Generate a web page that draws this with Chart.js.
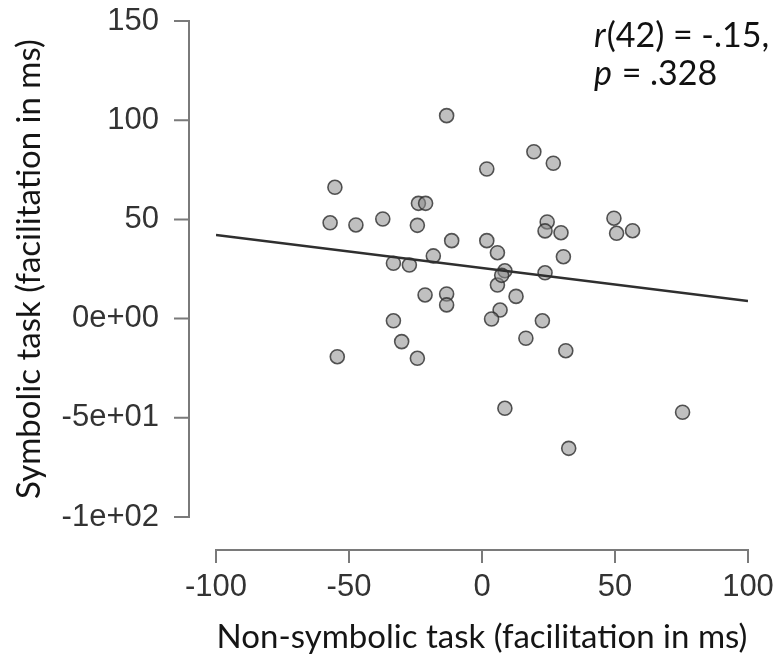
<!DOCTYPE html>
<html>
<head>
<meta charset="utf-8">
<script src="https://cdn.jsdelivr.net/npm/chart.js@4/dist/chart.umd.min.js"></script>
<style>
  html, body { margin: 0; padding: 0; background: #ffffff; }
  #wrap { width: 779px; height: 661px; position: relative; }
</style>
</head>
<body>
<div id="wrap"><canvas id="c" width="779" height="661"></canvas></div>
<script>
// ---- data ----
const nonSymbolic = [
  -13.3, 1.8, -55.3, -23.9, -21.2, -57.1, -47.4, -37.3, -24.3, -11.4,
  1.8, 5.8, -18.3, -33.3, -27.3, 8.6, 19.5, 26.8, 24.5, 23.7,
  29.7, 49.6, 50.6, 56.6, 30.6, 23.7, 5.8, 12.8, -21.4, -13.3,
  -13.3, 6.8, 3.6, -33.3, 22.7, 16.5, -30.2, 31.5, -54.4, -24.3,
  8.6, 75.4, 32.6, 7.4
];
const symbolic = [
  102.3, 75.4, 66.2, 58.1, 58.1, 48.3, 47.2, 50.2, 47.0, 39.3,
  39.3, 33.2, 31.6, 27.9, 27.0, 24.1, 84.1, 78.3, 48.7, 44.2,
  43.3, 50.6, 43.0, 44.3, 31.2, 23.1, 16.9, 11.2, 11.9, 12.4,
  6.9, 4.3, -0.2, -1.1, -1.1, -9.9, -11.6, -16.2, -19.2, -20.0,
  -45.2, -47.2, -65.4, 21.8
];
const fitX = [-100, 100];
const fitY = [42.1, 8.9];
const xTicks = [-100, -50, 0, 50, 100];
const xTickLabels = ['-100', '-50', '0', '50', '100'];
const yTicks = [-100, -50, 0, 50, 100, 150];
const yTickLabels = ['-1e+02', '-5e+01', '0e+00', '50', '100', '150'];
const xTitle = 'Non-symbolic task (facilitation in ms)';
const yTitle = 'Symbolic task (facilitation in ms)';
const statLine1 = ['r', '(42) = -.15,'];
const statLine2 = ['p', ' = .328'];

const points = nonSymbolic.map((x, i) => ({ x: x, y: symbolic[i] }));
const fitPoints = fitX.map((x, i) => ({ x: x, y: fitY[i] }));

const AXIS_COLOR = '#7a7a7a';
const TITLE_FONT = 'Lato, "Open Sans", sans-serif';
const TICK_FONT = '"Liberation Sans", Arial, sans-serif';

// Offset (R-style) axes drawn from the chart's own scales
const offsetAxes = {
  id: 'offsetAxes',
  afterDraw(chart) {
    const ctx = chart.ctx;
    const xs = chart.scales.x, ys = chart.scales.y;
    const area = chart.chartArea;
    ctx.save();
    ctx.strokeStyle = AXIS_COLOR;
    ctx.lineWidth = 2;
    ctx.lineCap = 'butt';
    // y axis
    const ax = area.left - 27;
    const yTop = ys.getPixelForValue(yTicks[yTicks.length - 1]);
    const yBot = ys.getPixelForValue(yTicks[0]);
    ctx.beginPath();
    ctx.moveTo(ax, yTop - 1); ctx.lineTo(ax, yBot + 1);
    yTicks.forEach(v => {
      const py = ys.getPixelForValue(v);
      ctx.moveTo(ax - 15, py); ctx.lineTo(ax, py);
    });
    ctx.stroke();
    // x axis
    const ay = area.bottom + 33;
    const xL = xs.getPixelForValue(xTicks[0]);
    const xR = xs.getPixelForValue(xTicks[xTicks.length - 1]);
    ctx.beginPath();
    ctx.moveTo(xL - 1, ay); ctx.lineTo(xR + 1, ay);
    xTicks.forEach(v => {
      const px = xs.getPixelForValue(v);
      ctx.moveTo(px, ay); ctx.lineTo(px, ay + 13);
    });
    ctx.stroke();

    // statistics annotation
    ctx.fillStyle = '#111111';
    ctx.textBaseline = 'alphabetic';
    ctx.textAlign = 'left';
    const drawParts = (parts, x, y) => {
      ctx.font = 'italic 34px ' + TITLE_FONT;
      ctx.fillText(parts[0], x, y);
      const w = ctx.measureText(parts[0]).width;
      ctx.font = '34px ' + TITLE_FONT;
      ctx.fillText(parts[1], x + w + 1, y);
    };
    drawParts(statLine1, 594, 47);
    drawParts(statLine2, 594, 85);
    ctx.restore();
  }
};

new Chart(document.getElementById('c'), {
  type: 'scatter',
  data: {
    datasets: [
      {
        type: 'line',
        label: 'fit',
        data: fitPoints,
        borderColor: '#2f2f2f',
        borderWidth: 2.5,
        pointRadius: 0,
        fill: false,
        order: 0
      },
      {
        type: 'scatter',
        label: 'participants',
        data: points,
        pointRadius: 7,
        pointHoverRadius: 7,
        backgroundColor: 'rgba(140,140,140,0.55)',
        borderColor: 'rgba(45,45,45,0.8)',
        borderWidth: 1.6,
        order: 1
      }
    ]
  },
  options: {
    responsive: false,
    animation: false,
    events: [],
    layout: { padding: { left: 0, top: 21, right: 31, bottom: 0 } },
    plugins: { legend: { display: false }, tooltip: { enabled: false } },
    scales: {
      x: {
        type: 'linear',
        min: -100, max: 100,
        grid: { display: true, drawOnChartArea: false, drawTicks: true, tickLength: 52, color: 'rgba(0,0,0,0)' },
        border: { display: false },
        afterBuildTicks: s => { s.ticks = xTicks.map(v => ({ value: v })); },
        afterFit: s => { s.height = 144; },
        ticks: {
          autoSkip: false,
          maxRotation: 0,
          padding: 0,
          color: '#333333',
          font: { family: TICK_FONT, size: 31 },
          callback: v => xTickLabels[xTicks.indexOf(v)]
        },
        title: {
          display: true,
          text: xTitle,
          color: '#151515',
          font: { family: TITLE_FONT, size: 33 },
          padding: { top: 0, bottom: 4 }
        }
      },
      y: {
        type: 'linear',
        min: -100, max: 150,
        grid: { display: true, drawOnChartArea: false, drawTicks: true, tickLength: 57, color: 'rgba(0,0,0,0)' },
        border: { display: false },
        afterBuildTicks: s => { s.ticks = yTicks.map(v => ({ value: v })); },
        afterFit: s => { s.width = 216; },
        ticks: {
          autoSkip: false,
          padding: 0,
          color: '#333333',
          font: { family: TICK_FONT, size: 31 },
          callback: v => yTickLabels[yTicks.indexOf(v)]
        },
        title: {
          display: true,
          text: yTitle,
          color: '#151515',
          font: { family: TITLE_FONT, size: 33 },
          padding: { top: 10, bottom: 0 }
        }
      }
    }
  },
  plugins: [offsetAxes]
});
</script>
</body>
</html>
